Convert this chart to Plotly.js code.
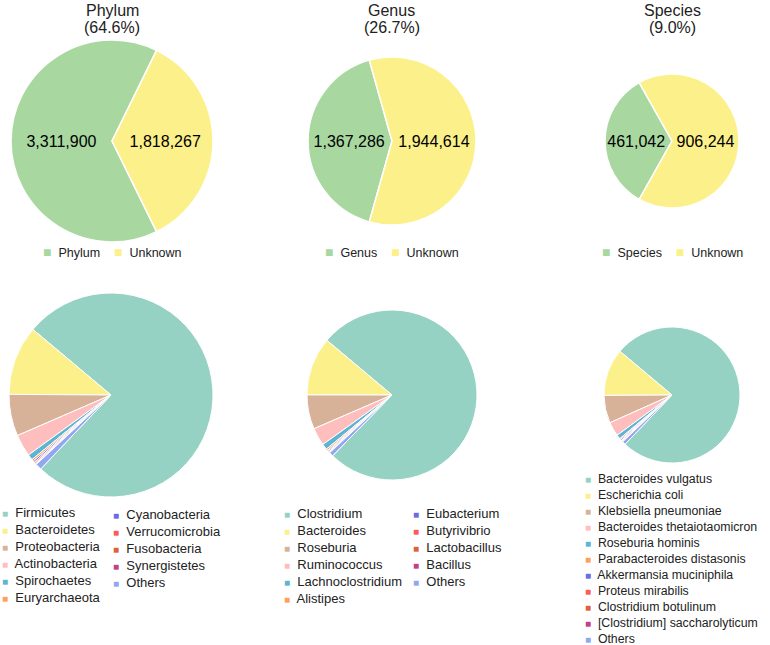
<!DOCTYPE html>
<html>
<head>
<meta charset="utf-8">
<script src="https://cdn.plot.ly/plotly-3.0.1.min.js"></script>
<style>
  body { margin: 0; background: #fff; }
  #chart { width: 770px; height: 645px; }
</style>
</head>
<body>
<div id="chart"></div>
<script>
// top row: classified vs unknown reads at each rank
var ranks = ['Phylum', 'Genus', 'Species'];
var classified = [3311900, 1367286, 461042];
var unknown = [1818267, 1944614, 906244];
var rankColors = ['#a8d8a0', '#fcf08a'];

// bottom row: composition of the classified reads (percent)
var phylumLabels = ['Firmicutes', 'Bacteroidetes', 'Proteobacteria', 'Actinobacteria', 'Spirochaetes',
  'Euryarchaeota', 'Cyanobacteria', 'Verrucomicrobia', 'Fusobacteria', 'Synergistetes', 'Others'];
var phylumValues = [75.9, 11.0, 6.6, 3.5, 0.9, 0.3, 0.25, 0.2, 0.15, 0.1, 1.0];

var genusLabels = ['Clostridium', 'Bacteroides', 'Roseburia', 'Ruminococcus', 'Lachnoclostridium',
  'Alistipes', 'Eubacterium', 'Butyrivibrio', 'Lactobacillus', 'Bacillus', 'Others'];
var genusValues = [76.2, 11.1, 6.5, 3.4, 1.1, 0.3, 0.2, 0.2, 0.1, 0.1, 0.8];

var speciesLabels = ['Bacteroides vulgatus', 'Escherichia coli', 'Klebsiella pneumoniae',
  'Bacteroides thetaiotaomicron', 'Roseburia hominis', 'Parabacteroides distasonis',
  'Akkermansia muciniphila', 'Proteus mirabilis', 'Clostridium botulinum',
  '[Clostridium] saccharolyticum', 'Others'];
var speciesValues = [76.0, 11.2, 6.6, 3.4, 1.0, 0.3, 0.25, 0.2, 0.15, 0.1, 0.8];

var sliceColors = ['#96d2c3', '#fcf08a', '#d8b298', '#ffbebe', '#5fb4d2', '#ffa05a',
  '#6b6be6', '#ff5a5a', '#e0603c', '#c0408a', '#8fa8f0'];

var W = 770, H = 645;
var FONT = 'Liberation Sans, Arial, Helvetica, sans-serif';

// pie placement in pixels: [centre x, centre y, radius]
var topPos = [[112, 141, 101], [392, 141, 84], [672, 141, 67]];
var bottomPos = [[111, 395, 102], [392, 395, 85], [672, 395, 68]];

function dom(p) {
  return {
    x: [(p[0] - p[2]) / W, (p[0] + p[2]) / W],
    y: [1 - (p[1] + p[2]) / H, 1 - (p[1] - p[2]) / H]
  };
}

function swatch(color, label, size) {
  return '<span style="color:' + color + ';font-size:' + size + 'px">\u25A0</span>\u00a0 ' + label;
}

function note(text, px, py, opts) {
  var a = {
    text: text, x: px / W, y: 1 - py / H, xref: 'paper', yref: 'paper',
    showarrow: false, font: { family: FONT, size: 16, color: '#222' },
    xanchor: 'center', yanchor: 'middle'
  };
  for (var k in opts) a[k] = opts[k];
  return a;
}

var data = [];
var annotations = [];
var phylumTotal = classified[0] + unknown[0];

for (var i = 0; i < ranks.length; i++) {
  var frac = classified[i] / (classified[i] + unknown[i]);
  var rot = 270 - 180 * frac;
  if (rot > 180) rot -= 360;

  data.push({
    type: 'pie',
    labels: [ranks[i], 'Unknown'],
    values: [classified[i], unknown[i]],
    domain: dom(topPos[i]),
    sort: false,
    direction: 'clockwise',
    rotation: rot,
    marker: { colors: rankColors, line: { color: '#ffffff', width: 1.5 } },
    texttemplate: '%{value:,}',
    textposition: 'inside',
    insidetextorientation: 'horizontal',
    textfont: { family: FONT, size: 16, color: '#000' },
    showlegend: false
  });

  annotations.push(note(ranks[i], topPos[i][0], 10));
  annotations.push(note('(' + (100 * classified[i] / phylumTotal).toFixed(1) + '%)', topPos[i][0], 28));
  annotations.push(note(swatch(rankColors[0], ranks[i], 14) + '\u00a0\u00a0\u00a0\u00a0' + swatch(rankColors[1], 'Unknown', 14),
    topPos[i][0], 252, { font: { family: FONT, size: 12.5, color: '#222' } }));
}

var bottomSets = [
  [phylumLabels, phylumValues],
  [genusLabels, genusValues],
  [speciesLabels, speciesValues]
];

for (var j = 0; j < bottomSets.length; j++) {
  data.push({
    type: 'pie',
    labels: bottomSets[j][0],
    values: bottomSets[j][1],
    domain: dom(bottomPos[j]),
    sort: false,
    direction: 'counterclockwise',
    rotation: -50,
    marker: { colors: sliceColors, line: { color: '#ffffff', width: 1 } },
    textinfo: 'none',
    hoverinfo: 'label+percent',
    showlegend: false
  });
}

// legend columns: [set index, first item, last item (excl), left px, top px, font size]
var legendCols = [
  [0, 0, 6, 0, 503, 13], [0, 6, 11, 111, 505, 13],
  [1, 0, 6, 282, 504, 13], [1, 6, 11, 411, 504, 13],
  [2, 0, 11, 583, 470, 12.3]
];
legendCols.forEach(function (c) {
  var labels = bottomSets[c[0]][0];
  var lines = [];
  for (var k = c[1]; k < c[2]; k++) lines.push(swatch(sliceColors[k], labels[k], 10));
  annotations.push(note(lines.join('<br>'), c[3], c[4], {
    xanchor: 'left', yanchor: 'top', align: 'left',
    font: { family: FONT, size: c[5], color: '#222' }
  }));
});

var layout = {
  width: W,
  height: H,
  margin: { l: 0, r: 0, t: 0, b: 0 },
  paper_bgcolor: '#ffffff',
  font: { family: FONT },
  showlegend: false,
  annotations: annotations
};

Plotly.newPlot('chart', data, layout, { displayModeBar: false });
</script>
</body>
</html>
